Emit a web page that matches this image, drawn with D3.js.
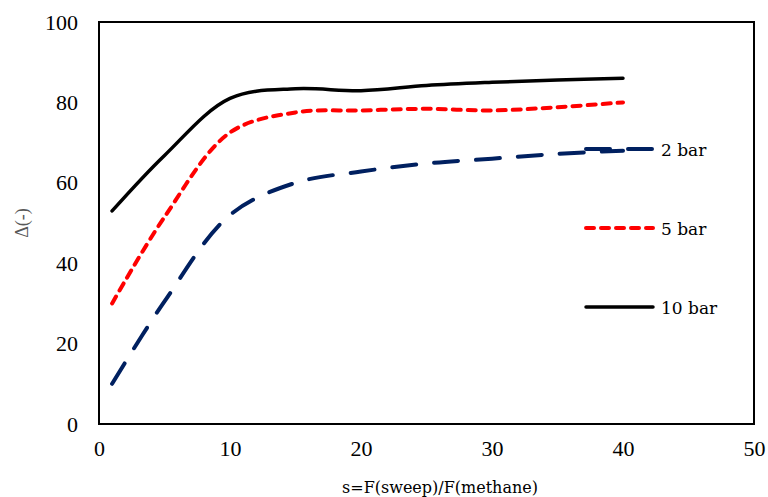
<!DOCTYPE html>
<html>
<head>
<meta charset="utf-8">
<script src="https://cdn.jsdelivr.net/npm/d3@7"></script>
<style>
  body { margin: 0; background: #fff; }
  .tick text { font-family: "Liberation Serif", serif; font-size: 22px; fill: #000; }
</style>
</head>
<body>
<div id="chart"></div>
<script>
// values
var sValues = [1, 5, 10, 15, 20, 25, 30, 35, 40];
var bar2 = [10, 30.5, 52, 60, 62.8, 64.8, 66, 67.2, 68];
var bar5 = [30, 51.5, 72.5, 77.5, 78, 78.4, 78, 78.8, 80];
var bar10 = [53, 66.8, 81, 83.4, 82.9, 84.2, 85, 85.6, 86];
var xTicks = [0, 10, 20, 30, 40, 50];
var yTicks = [0, 20, 40, 60, 80, 100];

var svg = d3.select('#chart')
    .append('svg')
    .attr('width', 768)
    .attr('height', 497);

var margin = { top: 22, right: 14, bottom: 73, left: 99 };
var width = 768 - margin.left - margin.right;
var height = 497 - margin.top - margin.bottom;

var g = svg.append("g").attr("transform", "translate(" + margin.left + "," + margin.top + ")");

var x = d3.scaleLinear().domain([0, 50]).range([0, width]);
var y = d3.scaleLinear().domain([0, 100]).range([height, 0]);

var xAxis = g.append("g")
    .attr("transform", "translate(0," + height + ")")
    .call(d3.axisBottom(x).tickValues(xTicks).tickSize(0).tickPadding(16));
xAxis.select(".domain").remove();

var yAxis = g.append("g")
    .call(d3.axisLeft(y).tickValues(yTicks).tickSize(0).tickPadding(21));
yAxis.select(".domain").remove();

// plot frame
g.append("rect")
    .attr("width", width)
    .attr("height", height)
    .attr("fill", "none")
    .attr("stroke", "#000")
    .attr("stroke-width", 2);

var series = [
    { name: "2 bar", values: bar2, color: "#002060", dash: "24,18", width: 4 },
    { name: "5 bar", values: bar5, color: "#ff0000", dash: "8,7", width: 4 },
    { name: "10 bar", values: bar10, color: "#000000", dash: null, width: 3.5 }
];

var line = d3.line()
    .x(function (d) { return x(d[0]); })
    .y(function (d) { return y(d[1]); })
    .curve(d3.curveCatmullRom.alpha(0.5));

series.forEach(function (s, i) {
    g.append("path")
        .datum(sValues.map(function (v, j) { return [v, s.values[j]]; }))
        .attr("fill", "none")
        .attr("stroke", s.color)
        .attr("stroke-width", s.width)
        .attr("stroke-linecap", "round")
        .attr("stroke-dasharray", s.dash)
        .attr("d", line);

    // legend
    var ly = 149 + i * 79;
    svg.append("line")
        .attr("x1", 586).attr("x2", 653)
        .attr("y1", ly).attr("y2", ly)
        .attr("stroke", s.color)
        .attr("stroke-width", s.width)
        .attr("stroke-linecap", "round")
        .attr("stroke-dasharray", s.dash);
    svg.append("text")
        .attr("x", 661)
        .attr("y", ly + 7)
        .style("font-family", "DejaVu Serif, serif")
        .style("font-size", "17px")
        .text(s.name);
});

// axis titles
svg.append("text")
    .attr("x", 440)
    .attr("y", 493)
    .attr("text-anchor", "middle")
    .style("font-family", "DejaVu Serif, serif")
    .style("font-size", "16px")
    .text("s=F(sweep)/F(methane)");

svg.append("text")
    .attr("transform", "translate(28," + (margin.top + height / 2) + ") rotate(-90)")
    .attr("text-anchor", "middle")
    .style("font-family", "Liberation Serif, serif")
    .style("font-size", "18px")
    .attr("fill", "#595959")
    .text("Δ(-)");
</script>
</body>
</html>
